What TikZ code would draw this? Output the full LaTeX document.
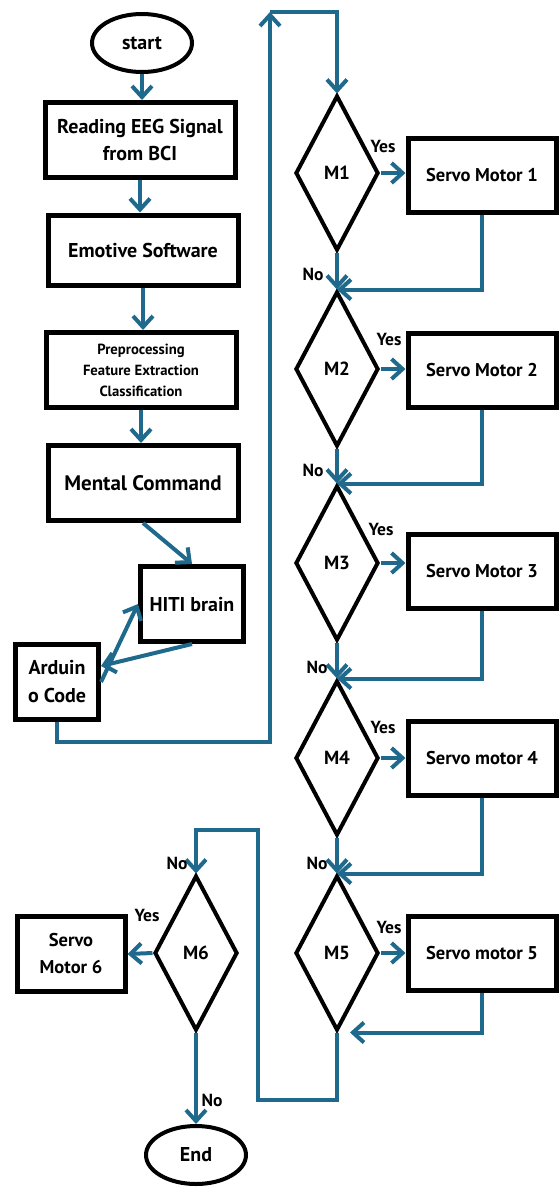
\documentclass[tikz,border=0pt]{standalone}
\usepackage{fontspec}
\setmainfont{PT Sans}
\usetikzlibrary{arrows.meta,shapes.geometric,positioning}
\definecolor{flowblue}{HTML}{1F6A8C}

\begin{document}
\begin{tikzpicture}[x=1pt,y=-1pt,
	box/.style={draw,fill=white,line width=5pt,align=center,inner sep=2pt,
		font=\bfseries\fontsize{20}{27}\selectfont},
	term/.style={draw,ellipse,line width=4pt,minimum width=100pt,minimum height=58pt,
		font=\bfseries\fontsize{20}{22}\selectfont},
	dec/.style={draw,diamond,line width=4pt,minimum width=83pt,minimum height=155pt,
		inner sep=0pt,font=\bfseries\fontsize{19}{20}\selectfont},
	servo/.style={box,minimum width=148pt,minimum height=74pt,font=\bfseries\fontsize{18.5}{20}\selectfont},
	flow/.style={draw=flowblue,line width=4pt,-{Straight Barb[length=11pt,width=20pt]}},
	plain/.style={draw=flowblue,line width=4pt},
	lbl/.style={font=\bfseries\fontsize{17.5}{18}\selectfont,inner sep=0pt}]
	\useasboundingbox (0,0) rectangle (558,1187);
	
	% left column
	\node[term] (start) at (142,43) {start};
	\node[box,minimum width=190pt,minimum height=75pt] (read) at (140,140) {Reading EEG Signal\\from BCI};
	\node[box,minimum width=190pt,minimum height=70pt] (emo) at (143,250) {Emotive Software};
	\node[box,minimum width=190pt,minimum height=75pt,font=\bfseries\fontsize{14.7}{21}\selectfont] (pre) at (141,370) {Preprocessing\\Feature Extraction\\Classification};
	\node[box,minimum width=190pt,minimum height=75pt,font=\bfseries\fontsize{21}{27}\selectfont] (mc) at (143,483) {Mental Command};
	\node[box,minimum width=103pt,minimum height=75pt] (hiti) at (192,604) {HITI brain};
	\node[box,minimum width=83pt,minimum height=75pt,font=\bfseries\fontsize{20}{28}\selectfont] (ard) at (57,682) {Arduin\\o Code};
	
	\draw[flow] (start.south) -- (start.south |- read.north);
	\draw[flow] (read.south) -- (read.south |- emo.north);
	\draw[flow] (emo.south) -- (emo.south |- pre.north);
	\draw[flow] (pre.south) -- (pre.south |- mc.north);
	\draw[flow] (mc.south) -- (hiti.north);
	\draw[flow] (ard.east) -- (hiti.west);
	\draw[flow] (hiti.south) -- ([yshift=16pt]ard.east);
	
	% loop up to the decisions
	\coordinate (top) at (270,12);
	\draw[flow] (ard.south) |- (270,742) -- (top);
	
	% decision column
	\node[dec] (m1) at (337,173) {M1};
	\node[dec] (m2) at (337,369) {M2};
	\node[dec] (m3) at (337,563) {M3};
	\node[dec] (m4) at (337,758) {M4};
	\node[dec] (m5) at (337,953) {M5};
	\node[servo] (srv1) at (482,175) {Servo Motor 1};
	\node[servo] (srv2) at (482,370) {Servo Motor 2};
	\node[servo] (srv3) at (482,571) {Servo Motor 3};
	\node[servo] (srv4) at (482,758) {Servo motor 4};
	\node[servo] (srv5) at (482,953) {Servo motor 5};
	
	\draw[flow] (top) -| (m1.north);
	\foreach \i/\j in {1/2,2/3,3/4,4/5}{
		\draw[flow] (m\i.east) -- (m\i.east -| srv\i.west);
		\draw[flow] (m\i.south) -- (m\j.north);
		\draw[flow] (srv\i.south) |- (m\j.north);
	}
	\draw[flow] (m5.east) -- (m5.east -| srv5.west);
	\draw[flow] (srv5.south) |- ([xshift=13pt]m5.south);
	
	% last decision
	\node[dec] (m6) at (196,953) {M6};
	\node[box,minimum width=108pt,minimum height=75pt,font=\bfseries\fontsize{18.5}{27}\selectfont] (srv6) at (71,954) {Servo\\Motor 6};
	\node[term] (end) at (196,1155) {End};
	\coordinate (b1) at (258,1100);
	\coordinate (b2) at (258,830);
	\draw[flow] (m5.south) |- (b1) -- (b2) -| (m6.north);
	\draw[flow] (m6.west) -- (srv6.east);
	\draw[flow] (m6.south) -- (end.north);
	
	% labels
	\node[lbl] (y1) at (383,146) {Yes};
	\node[lbl] (y2) at (389,339) {Yes};
	\node[lbl] (y3) at (381,529) {Yes};
	\node[lbl] (y4) at (383,727) {Yes};
	\node[lbl] (y5) at (389,927) {Yes};
	\node[lbl] (y6) at (147,915) {Yes};
	\node[lbl] (n1) at (313,274) {No};
	\node[lbl] (n2) at (313,470) {No};
	\node[lbl] (n3) at (317,667) {No};
	\node[lbl] (n4) at (317,863) {No};
	\node[lbl] (n6) at (177,863) {No};
	\node[lbl] (n7) at (212,1100) {No};
\end{tikzpicture}
\end{document}
